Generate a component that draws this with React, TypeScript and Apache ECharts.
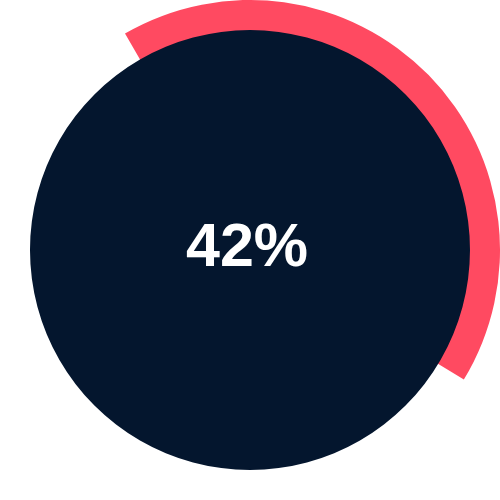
import React, { useEffect, useRef } from "react";
import * as echarts from "echarts";

const arcValues = [42, 58];
const arcColors = ["#FF4A61", "transparent"];
const circleValue = [1];
const labelText = "42%";

export default function App() {
  const ref = useRef<HTMLDivElement>(null);
  useEffect(() => {
    if (!ref.current) return;
    const chart = echarts.init(ref.current, null, { renderer: "svg" });
    chart.setOption({
      animation: false,
      backgroundColor: "#ffffff",
      series: [
        {
          type: "pie",
          center: [250, 250],
          radius: [200, 250],
          startAngle: 120,
          clockwise: true,
          silent: true,
          label: { show: false },
          labelLine: { show: false },
          emphasis: { disabled: true },
          data: arcValues.map((v, i) => ({
            value: v,
            itemStyle: { color: arcColors[i], borderWidth: 0 },
          })),
          z: 1,
        },
        {
          type: "pie",
          center: [250, 250],
          radius: [0, 220],
          silent: true,
          label: { show: false },
          labelLine: { show: false },
          emphasis: { disabled: true },
          data: circleValue.map((v) => ({
            value: v,
            itemStyle: { color: "#04162E", borderWidth: 0 },
          })),
          z: 2,
        },
      ],
      graphic: [
        {
          type: "text",
          x: 247,
          y: 245,
          z: 10,
          style: {
            text: labelText,
            fill: "#ffffff",
            font: "bold 61px 'Liberation Sans', Arial, sans-serif",
            textAlign: "center",
            textVerticalAlign: "middle",
          },
        },
      ],
    });
    return () => chart.dispose();
  }, []);
  return (
    <div
      ref={ref}
      style={{ position: "absolute", left: 0, top: 0, width: 500, height: 500 }}
    />
  );
}
